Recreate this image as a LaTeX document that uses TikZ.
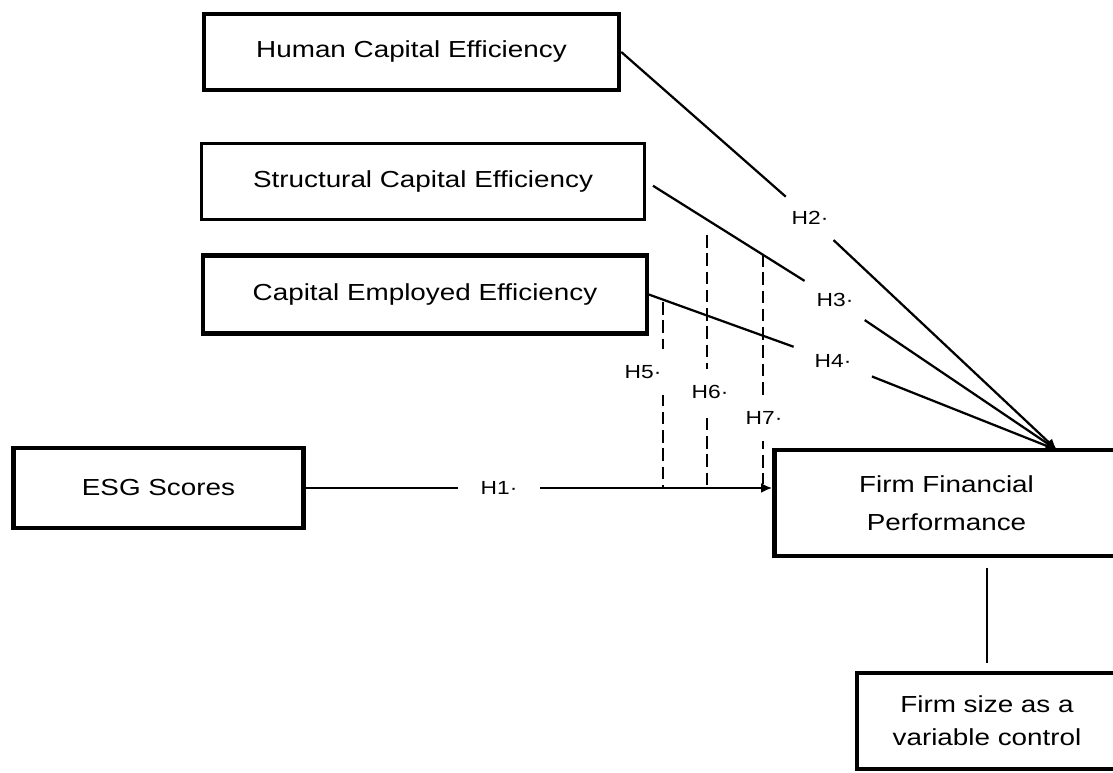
\documentclass[tikz,border=0pt]{standalone}
\usepackage{fontspec}
\setmainfont{Liberation Sans}[FakeStretch=1.2]
\usetikzlibrary{arrows.meta, positioning, calc}

\begin{document}
\begin{tikzpicture}[x=0.025cm, y=-0.025cm, >={Latex[length=8pt,width=7pt]},
	box/.style={draw, line width=3pt, align=center, inner sep=0pt, font=\fontsize{16.5}{27}\selectfont},
	link/.style={line width=1.6pt},
	hyp/.style={circle, inner sep=0pt, font=\fontsize{13.5}{15}\selectfont},
	modr/.style={line width=1.6pt, dash pattern=on 9pt off 4pt},
	hlab/.style={fill=white, inner xsep=3pt, inner ysep=0.4cm, font=\fontsize{13.5}{15}\selectfont} ]
	\useasboundingbox (0,0) rectangle (1113,773);
	% Boxes
	\node[box, minimum width=10.38cm, minimum height=1.9cm] (hce) at (411.5,52) {Human Capital Efficiency};
	\node[box, line width=2.2pt, minimum width=11.08cm, minimum height=1.9cm] (sce) at (423,181.5) {Structural Capital Efficiency};
	\node[box, minimum width=11.08cm, minimum height=1.95cm] (cee) at (425,294.5) {Capital Employed Efficiency};
	\node[box, minimum width=7.25cm, minimum height=1.98cm] (esg) at (158.5,488) {ESG Scores};
	\node[box, minimum width=8.6cm, minimum height=2.63cm] (firm) at (946.5,503) {Firm Financial\\Performance};
	\node[box, minimum width=6.48cm, minimum height=2.38cm, font=\fontsize{16.5}{23.4}\selectfont] (fsize) at (987,721) {Firm size as a\\variable control};
	\coordinate (conv) at (1057,450);
		% Hypothesis labels
		\node[hyp, minimum size=2.05cm] (h1) at (499,488) {H1·};
		\node[hyp, minimum size=1.6cm] (h2) at (810,218) {H2·};
		\node[hyp, minimum size=1.78cm] (h3) at (835,300) {H3·};
		\node[hyp, minimum size=2.08cm] (h4) at (833,361) {H4·};
		% Direct paths
		\draw[link] (esg.east) -- (h1);
		\draw[link, ->] (h1) -- (firm.west |- h1);
		\draw[link] (hce.east) -- (h2);
		\draw[link, ->] (h2) -- (conv);
		\draw[link, shorten <=0.2cm] (sce.east) -- (h3);
		\draw[link, ->] (h3) -- (conv);
		\draw[link] (cee.east) -- (h4);
		\draw[link, ->] (h4) -- (conv);
		% Moderating paths
		\coordinate (m5) at (663,302);
		\coordinate (m6) at (707,235);
		\coordinate (m7) at (763,254);
		\draw[modr] (m5) -- (m5 |- h1);
		\draw[modr] (m6) -- (m6 |- h1);
		\draw[modr] (m7) -- ([yshift=0.1cm]m7 |- h1);
		\node[hlab] (h5) at (643,372) {H5·};
		\node[hlab] (h6) at (710,392) {H6·};
		\node[hlab] (h7) at (764,418) {H7·};
		% Control
		\draw[link, shorten <=0.25cm, shorten >=0.2cm] (fsize.north |- firm.south) -- (fsize.north);
\end{tikzpicture}
\end{document}
